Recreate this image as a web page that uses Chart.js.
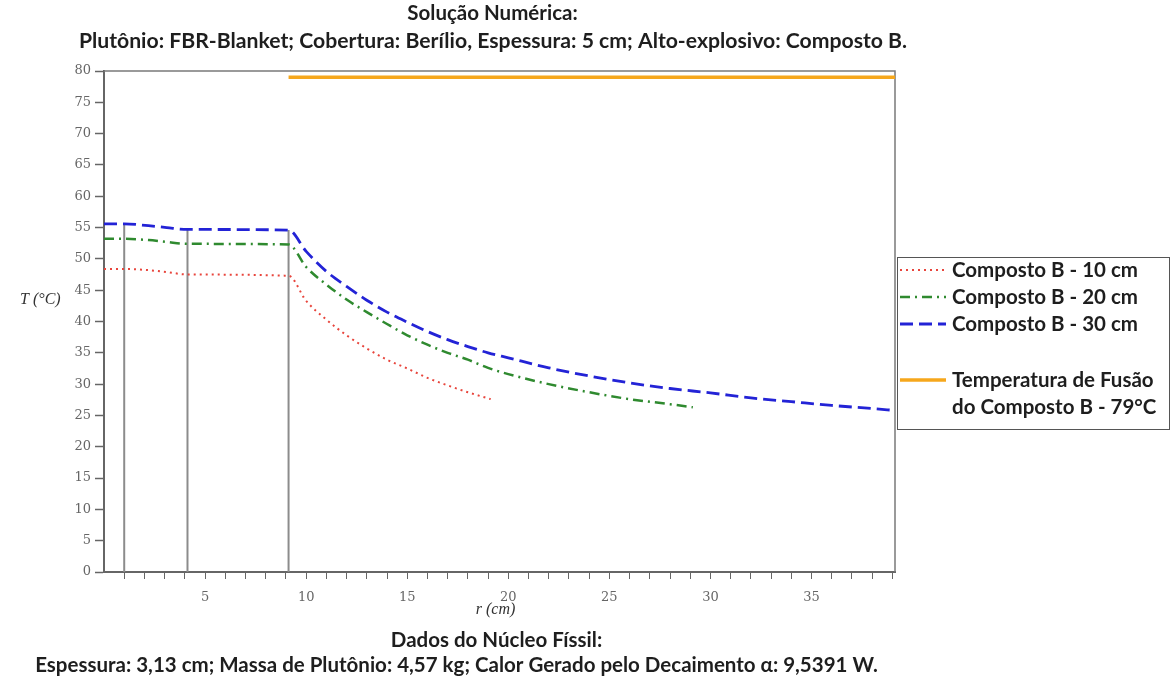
<!DOCTYPE html>
<html>
<head>
<meta charset="utf-8">
<script src="https://cdn.jsdelivr.net/npm/chart.js@4/dist/chart.umd.min.js"></script>
<style>
  html, body { margin: 0; padding: 0; background: #ffffff; }
  #wrap { width: 1172px; height: 682px; }
</style>
</head>
<body>
<div id="wrap"><canvas id="c" width="1172" height="682"></canvas></div>
<script>
// Radial position r (cm) and temperature T (°C) for each explosive thickness
const radius10 = [0, 1, 2.2, 3.1, 4.13, 9.13, 10, 11, 12, 13, 14, 15, 16, 17, 18, 19.13];
const temp10   = [48.4, 48.4, 48.2, 47.9, 47.5, 47.3, 43.3, 40.3, 37.8, 35.7, 33.9, 32.5, 31.0, 29.8, 28.7, 27.6];

const radius20 = [0, 1, 2.2, 3.1, 4.13, 9.13, 10, 11, 12, 13, 14, 15, 16, 17, 18, 19, 20, 22, 24, 26, 28, 29.13];
const temp20   = [53.2, 53.2, 53.0, 52.7, 52.4, 52.3, 48.7, 45.9, 43.5, 41.5, 39.6, 37.8, 36.3, 35.0, 33.9, 32.6, 31.6, 30.0, 28.7, 27.6, 26.8, 26.3];

const radius30 = [0, 1, 2.2, 3.1, 4.13, 9.13, 10, 11, 12, 13, 14, 15, 16, 17, 18, 19, 20, 22, 24, 26, 28, 30, 32, 34, 36, 38, 39.13];
const temp30   = [55.6, 55.6, 55.3, 55.0, 54.7, 54.6, 51.2, 48.0, 45.6, 43.4, 41.5, 39.9, 38.4, 37.1, 36.0, 35.0, 34.2, 32.6, 31.3, 30.2, 29.3, 28.6, 27.8, 27.2, 26.6, 26.1, 25.8];

// Melting temperature of Composition B, drawn across the explosive region
const meltRadius = [9.13, 39.13];
const meltTemp   = [79, 79];

// Layer interfaces: cavity / core, core / beryllium, beryllium / explosive
const interfaces = [1, 4.13, 9.13];

// Axis ticks
const xMin = 0, xMax = 39.13;
const xLabelled = [5, 10, 15, 20, 25, 30, 35];
const yTicks = [0, 5, 10, 15, 20, 25, 30, 35, 40, 45, 50, 55, 60, 65, 70, 75, 80];

// Texts
const titleLines  = ['Solução Numérica:', 'Plutônio: FBR-Blanket; Cobertura: Berílio, Espessura: 5 cm; Alto-explosivo: Composto B.'];
const footerLines = ['Dados do Núcleo Físsil:', 'Espessura: 3,13 cm; Massa de Plutônio: 4,57 kg; Calor Gerado pelo Decaimento α: 9,5391 W.'];
const seriesLabels = ['Composto B - 10 cm', 'Composto B - 20 cm', 'Composto B - 30 cm'];
const meltLabel = ['Temperatura de Fusão', 'do Composto B - 79°C'];
const xAxisTitle = 'r (cm)';
const yAxisTitle = 'T (°C)';

const toPoints = (xs, ys) => xs.map((x, i) => ({ x: x, y: ys[i] }));
// interface lines rise from 0 up to the 30 cm curve
const interfaceTop = interfaces.map(r => temp30[radius30.indexOf(r)]);

const textFont = 'Lato, "Open Sans", sans-serif';
const serifFont = '"DejaVu Serif", "Liberation Serif", serif';
const italicSerif = '"Liberation Serif", "DejaVu Serif", serif';

const curve = (label, xs, ys, color, width, dash) => ({
  label: label,
  data: toPoints(xs, ys),
  borderColor: color,
  borderWidth: width,
  borderDash: dash,
  pointRadius: 0,
  fill: false,
  cubicInterpolationMode: 'monotone',
  order: 1
});

const datasets = [
  curve(seriesLabels[0], radius10, temp10, '#e8453c', 2, [2, 4]),
  curve(seriesLabels[1], radius20, temp20, '#2f8a2f', 2.5, [10, 5, 2, 5]),
  curve(seriesLabels[2], radius30, temp30, '#2323d6', 2.8, [13, 6]),
  Object.assign(curve(meltLabel.join(' '), meltRadius, meltTemp, '#f6a71c', 3.5, []), { cubicInterpolationMode: 'default' })
];
interfaces.forEach((r, i) => {
  datasets.push({
    label: 'interface',
    data: [{ x: r, y: 0 }, { x: r, y: interfaceTop[i] }],
    borderColor: '#8c8c8c',
    borderWidth: 2,
    pointRadius: 0,
    fill: false,
    order: 5
  });
});

// Frame on the top and right of the plot area
const framePlugin = {
  id: 'frame',
  beforeDatasetsDraw(chart) {
    const a = chart.chartArea, ctx = chart.ctx;
    ctx.save();
    ctx.strokeStyle = '#7a7a7a';
    ctx.lineWidth = 1.5;
    ctx.beginPath();
    ctx.moveTo(a.left, a.top);
    ctx.lineTo(a.right, a.top);
    ctx.lineTo(a.right, a.bottom);
    ctx.stroke();
    ctx.restore();
  }
};

// Titles, axis names and the boxed legend
const textPlugin = {
  id: 'texts',
  afterDraw(chart) {
    const ctx = chart.ctx, a = chart.chartArea;
    const midX = (a.left + a.right) / 2;
    ctx.save();
    ctx.fillStyle = '#1e1e1e';
    ctx.textBaseline = 'middle';
    ctx.textAlign = 'center';
    ctx.font = 'bold 20.5px ' + textFont;
    ctx.fillText(titleLines[0], midX - 7, 13);
    ctx.fillText(footerLines[0], midX - 3, 640);
    ctx.fillText(footerLines[1], midX - 43, 665);
    ctx.font = 'bold 21.2px ' + textFont;
    ctx.fillText(titleLines[1], midX - 6.5, 41);

    // axis names
    ctx.fillStyle = '#333';
    ctx.font = 'italic 16px ' + italicSerif;
    ctx.textAlign = 'center';
    ctx.fillText(xAxisTitle, midX - 4, 610);
    ctx.textAlign = 'left';
    ctx.fillText(yAxisTitle, 20, 300);

    // legend box
    const bx = 897, by = 257, bw = 272, bh = 172;
    ctx.strokeStyle = '#555';
    ctx.lineWidth = 1;
    ctx.strokeRect(bx + 0.5, by + 0.5, bw, bh);
    const rows = [270, 297, 324, 380];
    ctx.font = 'bold 20.5px ' + textFont;
    ctx.fillStyle = '#1e1e1e';
    for (let i = 0; i < 4; i++) {
      const ds = chart.data.datasets[i];
      const y = rows[i];
      ctx.save();
      ctx.strokeStyle = ds.borderColor;
      ctx.lineWidth = ds.borderWidth;
      ctx.setLineDash(ds.borderDash || []);
      ctx.beginPath();
      ctx.moveTo(900, y);
      ctx.lineTo(946, y);
      ctx.stroke();
      ctx.restore();
      if (i < 3) {
        ctx.fillText(seriesLabels[i], 952, y);
      } else {
        ctx.fillText(meltLabel[0], 952, y);
        ctx.fillText(meltLabel[1], 952, y + 27);
      }
    }
    ctx.restore();
  }
};

new Chart(document.getElementById('c'), {
  type: 'line',
  data: { datasets: datasets },
  plugins: [framePlugin, textPlugin],
  options: {
    responsive: false,
    animation: false,
    devicePixelRatio: 1,
    layout: { padding: { top: 71, right: 277, bottom: 0, left: 0 } },
    plugins: { legend: { display: false }, tooltip: { enabled: false }, title: { display: false } },
    scales: {
      x: {
        type: 'linear',
        min: xMin,
        max: xMax,
        afterBuildTicks(scale) {
          const t = [];
          for (let v = 1; v <= Math.floor(xMax); v++) t.push({ value: v });
          scale.ticks = t;
        },
        afterFit(scale) { scale.height = 110; },
        ticks: {
          autoSkip: false,
          maxRotation: 0,
          padding: 11,
          color: '#666',
          font: { family: serifFont, size: 13 },
          callback: v => (xLabelled.includes(v) ? String(v) : '')
        },
        grid: { drawOnChartArea: false, drawTicks: true, tickLength: 7, tickColor: '#666', tickWidth: 1 },
        border: { display: true, color: '#666', width: 2 }
      },
      y: {
        type: 'linear',
        min: 0,
        max: 80,
        afterBuildTicks(scale) { scale.ticks = yTicks.map(v => ({ value: v })); },
        afterFit(scale) { scale.width = 104; },
        ticks: {
          autoSkip: false,
          padding: 4,
          color: '#666',
          font: { family: serifFont, size: 13 },
          callback: v => String(v)
        },
        grid: { drawOnChartArea: false, drawTicks: true, tickLength: 9, tickColor: '#666', tickWidth: 1.5 },
        border: { display: true, color: '#666', width: 2 }
      }
    }
  }
});
</script>
</body>
</html>
